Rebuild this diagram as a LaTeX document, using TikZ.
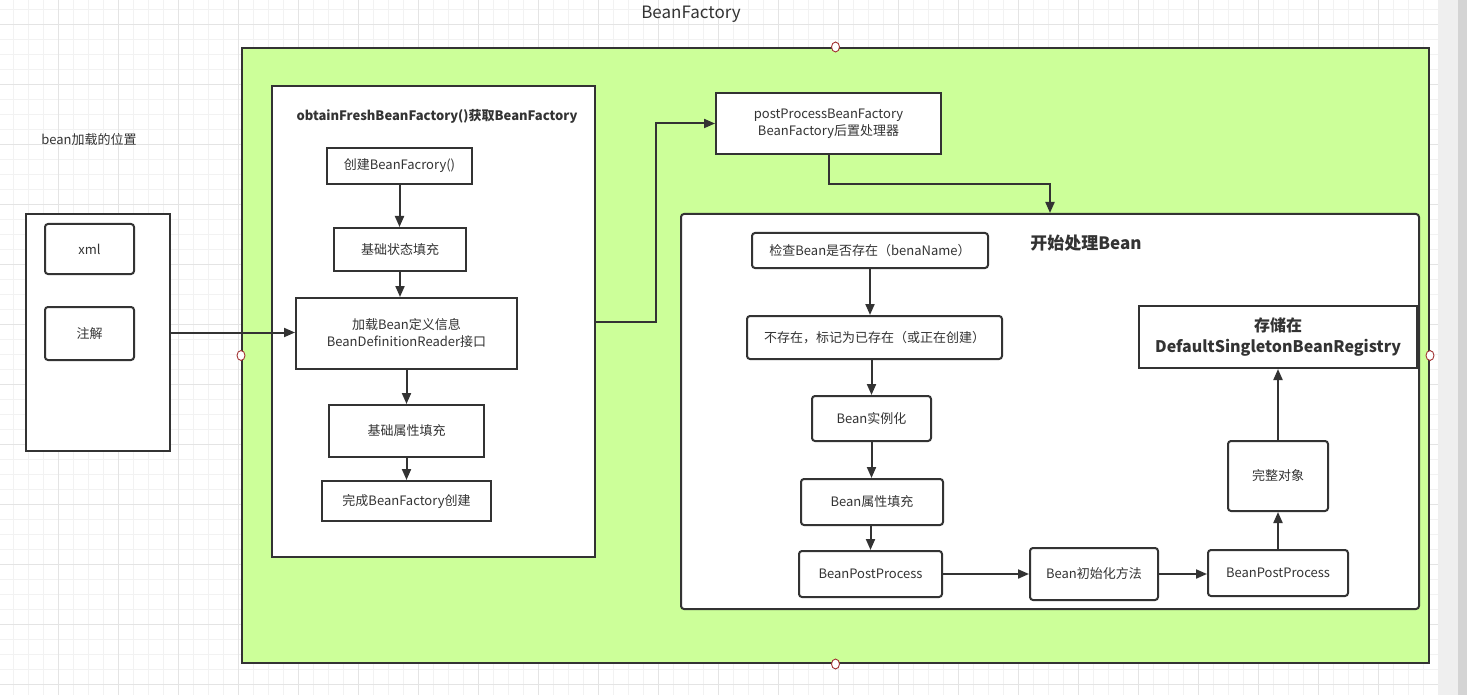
\documentclass[tikz,border=0pt]{standalone}
\usepackage{fontspec}
\setmainfont{Noto Sans CJK SC}
\usetikzlibrary{arrows.meta,calc,shapes.geometric}
\definecolor{ink}{HTML}{333333}
\definecolor{lime}{HTML}{CCFF99}
\definecolor{gminor}{HTML}{F2F2F2}
\definecolor{gmajor}{HTML}{E4E4E4}
\definecolor{sbl}{HTML}{EFEFEF}
\definecolor{sbd}{HTML}{D4D4D4}
\definecolor{ptred}{HTML}{A03030}
\tikzset{
  bx/.style={draw=ink, line width=2pt, fill=white, inner sep=0pt, align=center,
    text=ink, font=\fontsize{13}{17}\selectfont},
  rbx/.style={bx, rounded corners=3pt},
  arr/.style={draw=ink, line width=2pt, -{Triangle[length=11pt,width=9pt]}},
  cpt/.style={draw=ptred, fill=white, line width=0.9pt, ellipse, minimum width=8pt, minimum height=10pt, inner sep=0pt},
  lbl/.style={text=ink, inner sep=0pt, font=\fontsize{13}{17}\selectfont}
}
\begin{document}
\begin{tikzpicture}[x=1pt,y=-1pt]
\useasboundingbox (0,0) rectangle (1467,695);
\fill[white] (0,0) rectangle (1467,695);
% grid
\foreach \i in {0,...,95} { \draw[gminor, line width=0.8pt] ({13.33+15*\i},0) -- ++(0,695); }
\foreach \i in {0,...,45} { \draw[gminor, line width=0.8pt] (0,{9+15*\i}) -- (1438,{9+15*\i}); }
\foreach \i in {0,...,22} { \draw[gmajor, line width=0.8pt] ({58.33+60*\i},0) -- ++(0,695); }
\foreach \i in {0,...,11} { \draw[gmajor, line width=0.8pt] (0,{24+60*\i}) -- (1438,{24+60*\i}); }
\fill[sbl] (1438,0) rectangle (1458,695);
\fill[sbd] (1458,0) rectangle (1467,695);

% title
\node[text=ink, inner sep=0pt, font=\fontsize{17}{20}\selectfont] (title) at (691,14) {BeanFactory};

% outer container
\node[draw=ink, line width=2pt, fill=lime, minimum width=1187pt, minimum height=615pt, inner sep=0pt] (outer) at (835.5,355.5) {};
\node[cpt] (cpN) at (outer.north) {};
\node[cpt] (cpS) at (outer.south) {};
\node[cpt] (cpW) at (outer.west) {};
\node[cpt] (cpE) at (outer.east) {};

% left side
\node[lbl] (pos) at (89,140) {bean加载的位置};
\node[bx, minimum width=144pt, minimum height=237pt] (src) at (98,332.5) {};
\node[rbx, minimum width=89pt, minimum height=50pt] (xml) at (89.5,249) {xml};
\node[rbx, minimum width=89pt, minimum height=53pt] (anno) at (89.5,333.5) {注解};

% obtainFreshBeanFactory container
\node[bx, minimum width=323pt, minimum height=471pt] (obtain) at (433.5,321.5) {};
\node[text=ink, inner sep=0pt, font=\fontsize{13}{17}\selectfont\bfseries] (obtT) at (437,116) {obtainFreshBeanFactory()获取BeanFactory};
\node[bx, minimum width=145pt, minimum height=36pt] (create) at (399.5,166) {创建BeanFacrory()};
\node[bx, minimum width=132pt, minimum height=43pt] (state) at (400,249.5) {基础状态填充};
\node[bx, minimum width=221pt, minimum height=71pt] (load) at (406.5,333.5) {加载Bean定义信息\\BeanDefinitionReader接口};
\node[bx, minimum width=155pt, minimum height=52pt] (attr) at (406.5,431) {基础属性填充};
\node[bx, minimum width=169pt, minimum height=40pt] (done) at (406.5,501) {完成BeanFactory创建};

\draw[arr] (create.south) -- (create.south |- state.north);
\draw[arr] (state.south) -- (state.south |- load.north);
\draw[arr] (load.south) -- (load.south |- attr.north);
\draw[arr] (attr.south) -- (attr.south |- done.north);
\draw[arr] (src.east) -- (load.west |- src.east);

% postProcessBeanFactory
\node[bx, minimum width=225pt, minimum height=61pt] (pp) at (828.5,123.5) {postProcessBeanFactory\\BeanFactory后置处理器};
\draw[arr] (obtain.east) -- ++(60,0) |- (pp.west);

% start processing container
\node[rbx, minimum width=738pt, minimum height=395pt] (start) at (1050,411.5) {};
\draw[arr] (pp.south) -- ++(0,29) -| (start.north);
\node[text=ink, inner sep=0pt, font=\fontsize{17}{20}\selectfont\bfseries] (startT) at (1086,243) {开始处理Bean};

\node[rbx, minimum width=236pt, minimum height=35pt] (check) at (870,250.5) {检查Bean是否存在（benaName）};
\node[rbx, minimum width=255pt, minimum height=43pt] (mark) at (874.5,337.5) {不存在，标记为已存在（或正在创建）};
\node[rbx, minimum width=119pt, minimum height=45pt] (inst) at (871.5,418.5) {Bean实例化};
\node[rbx, minimum width=142pt, minimum height=46pt] (fill) at (872,502) {Bean属性填充};
\node[rbx, minimum width=143pt, minimum height=46pt] (bpp1) at (870.5,574) {BeanPostProcess};
\node[rbx, minimum width=128pt, minimum height=52pt] (init) at (1094,574) {Bean初始化方法};
\node[rbx, minimum width=140pt, minimum height=46pt] (bpp2) at (1278,573) {BeanPostProcess};
\node[rbx, minimum width=100pt, minimum height=70pt] (whole) at (1278,476) {完整对象};
\node[bx, minimum width=278pt, minimum height=62pt, font=\fontsize{16}{21}\selectfont\bfseries] (store) at (1278,337) {存储在\\DefaultSingletonBeanRegistry};

\draw[arr] (check.south) -- (check.south |- mark.north);
\draw[arr] (mark.south -| inst.north) -- (inst.north);
\draw[arr] (inst.south) -- (inst.south |- fill.north);
\draw[arr] (bpp1.north |- fill.south) -- (bpp1.north);
\draw[arr] (bpp1.east) -- (init.west |- bpp1.east);
\draw[arr] (init.east) -- (bpp2.west |- init.east);
\draw[arr] (bpp2.north) -- (whole.south);
\draw[arr] (whole.north) -- (store.south);
\end{tikzpicture}
\end{document}
